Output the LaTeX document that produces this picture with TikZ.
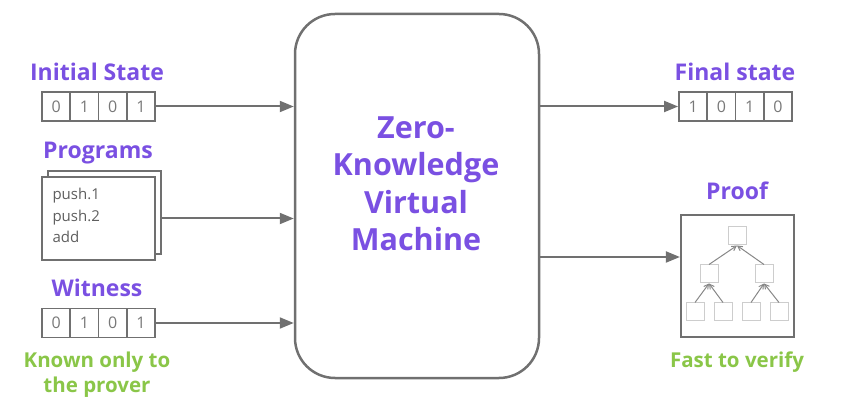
\documentclass[tikz,border=0pt]{standalone}
\usepackage{fontspec}
\setmainfont{Open Sans}
\usetikzlibrary{arrows.meta,positioning}

\definecolor{zkpurple}{RGB}{122,80,226}
\definecolor{zkgreen}{RGB}{138,198,72}
\definecolor{linegray}{RGB}{112,112,112}
\definecolor{bitgray}{RGB}{120,120,120}
\definecolor{codegray}{RGB}{95,95,95}
\definecolor{leafgray}{RGB}{205,205,205}
\definecolor{edgegray}{RGB}{135,135,135}

\begin{document}
\begin{tikzpicture}[
            x=1pt, y=-1pt,
            flow/.style={draw=linegray, line width=2pt, -{Triangle[length=14pt,width=11pt]}},
            title/.style={text=zkpurple, font=\fontsize{23}{27}\selectfont\bfseries},
            note/.style={text=zkgreen, font=\fontsize{20.5}{25}\selectfont\bfseries, align=center},
            bit/.style={draw=linegray, line width=1.8pt, minimum width=28.25pt, minimum height=29pt,
                inner sep=0pt, text=bitgray, font=\fontsize{16}{16}\selectfont},
            page/.style={draw=linegray, line width=2pt, fill=white, minimum width=113pt, minimum height=83pt},
            leaf/.style={draw=leafgray, line width=1pt, minimum size=18pt, inner sep=0pt},
            edge/.style={draw=edgegray, line width=1pt, -{Straight Barb[length=4.5pt,width=5pt]}}
        ]
            \useasboundingbox (0,0) rectangle (844,414);

            % the virtual machine
            \node[draw=linegray, line width=2.5pt, rounded corners=40pt,
                minimum width=244pt, minimum height=364pt] (zkvm) at (417,196) {};
            \node[text=zkpurple, align=center, font=\fontsize{30.5}{37.5}\selectfont\bfseries]
                (zkvmtext) at (416,184) {Zero-\\Knowledge\\Virtual\\Machine};

            % inputs
            \node[title] (initlabel) at (97,72) {Initial State};
            \foreach \b [count=\i] in {0,1,0,1}
                \node[bit] (ini\i) at ({42+28.25*(\i-0.5)},106.5) {\b};

            \node[title] (proglabel) at (98,153) {Programs};
            \node[page] (back) at (104,212.5) {};
            \node[page] (front) at (98.5,218.5) {};
            \node[anchor=north west, align=left, text=codegray, font=\fontsize{15}{21.5}\selectfont]
                (code) at (49,185) {push.1\\push.2\\add};

            \node[title] (witlabel) at (97,288) {Witness};
            \foreach \b [count=\i] in {0,1,0,1}
                \node[bit] (wit\i) at ({42+28.25*(\i-0.5)},323) {\b};
            \node[note] (witnote) at (97,375) {Known only to\\the prover};

            \draw[flow] (ini4.east) -- (ini4.east -| zkvm.west);
            \draw[flow] (back.east |- front.east) -- (front.east -| zkvm.west);
            \draw[flow] (wit4.east) -- (wit4.east -| zkvm.west);

            % outputs
            \node[title] (finlabel) at (735,72) {Final state};
            \foreach \b [count=\i] in {1,0,1,0}
                \node[bit] (fin\i) at ({679+28.25*(\i-0.5)},106.5) {\b};

            \node[title] (prooflabel) at (737,191) {Proof};
            \node[draw=linegray, line width=2.2pt, minimum width=113pt, minimum height=122pt] (proof) at (737.5,276) {};
            \coordinate (proofin) at (proof.west |- 0,257);
            \node[note] (proofnote) at (737,362) {Fast to verify};

            \draw[flow] (zkvm.east |- fin1.west) -- (fin1.west);
            \draw[flow] (zkvm.east |- proofin) -- (proofin);

            % merkle tree inside the proof
            \node[leaf] (root) at (737,236) {};
            \node[leaf] (mida) at (709,274) {};
            \node[leaf] (midb) at (764,274) {};
            \node[leaf] (lfa) at (695,312) {};
            \node[leaf] (lfb) at (723,312) {};
            \node[leaf] (lfc) at (751,312) {};
            \node[leaf] (lfd) at (779,312) {};
            \draw[edge] (mida.north) -- (root.south);
            \draw[edge] (midb.north) -- (root.south);
            \draw[edge] (lfa.north) -- (mida.south);
            \draw[edge] (lfb.north) -- (mida.south);
            \draw[edge] (lfc.north) -- (midb.south);
            \draw[edge] (lfd.north) -- (midb.south);
        \end{tikzpicture}
\end{document}
